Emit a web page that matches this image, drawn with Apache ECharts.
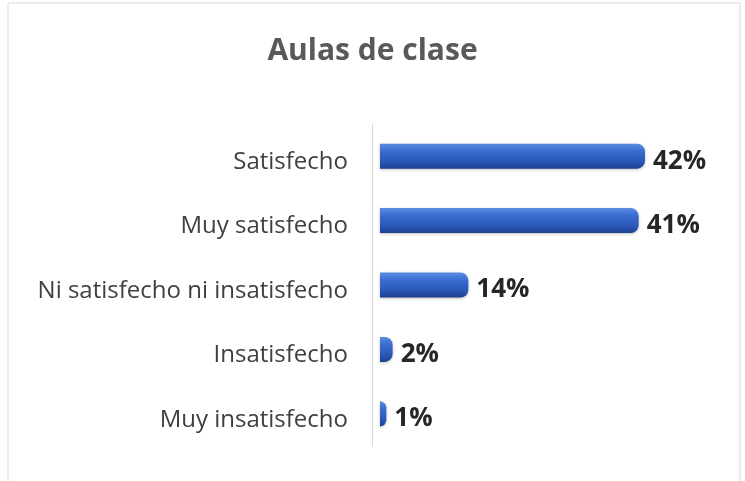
<!DOCTYPE html>
<html>
<head>
<meta charset="utf-8">
<script src="https://cdn.jsdelivr.net/npm/echarts@6/dist/echarts.min.js"></script>
<style>
html, body { margin: 0; padding: 0; background: #fff; }
#chart { width: 745px; height: 481px; }
</style>
</head>
<body>
<div id="chart"></div>
<script>
/*###############  Aulas de clase  ###############*/
var categorias = ['Satisfecho', 'Muy satisfecho', 'Ni satisfecho ni insatisfecho', 'Insatisfecho', 'Muy insatisfecho'];
var porcentajes = [42, 41, 14, 2, 1];

var dom = document.getElementById("chart");
var myChart = echarts.init(dom);
var option = {
    title: {
        text: 'Aulas de clase',
        left: 'center',
        top: 31,
        textStyle: {
            color: '#595959',
            fontFamily: 'Open Sans',
            fontSize: 30,
            fontWeight: 'bold'
        }
    },
    graphic: [
        {
            type: 'rect',
            shape: { x: 8, y: 3, width: 732, height: 490 },
            style: { fill: 'none', stroke: '#d9d9d9', lineWidth: 1 },
            silent: true
        }
    ],
    grid: {
        left: 372,
        right: 18,
        top: 124,
        bottom: 35
    },
    xAxis: {
        type: 'value',
        min: -1.27,
        max: 55,
        show: false,
        splitLine: { show: false }
    },
    yAxis: {
        type: 'category',
        inverse: true,
        data: categorias,
        axisLine: { show: true, onZero: false, lineStyle: { color: '#d9d9d9', width: 1 } },
        axisTick: { show: false },
        axisLabel: {
            margin: 24,
            formatter: '{c|{value}}',
            rich: {
                c: {
                    padding: [12, 0, 0, 0],
                    color: '#404040',
                    fontFamily: 'Open Sans',
                    fontSize: 24
                }
            }
        }
    },
    series: [
        {
            name: 'Aulas de clase',
            type: 'bar',
            data: porcentajes,
            barWidth: 25,
            itemStyle: {
                borderRadius: [0, 8, 8, 0],
                color: new echarts.graphic.LinearGradient(0, 0, 0, 1, [
                    { offset: 0, color: '#5b8be0' },
                    { offset: 0.3, color: '#3a6cd2' },
                    { offset: 0.8, color: '#2653b0' },
                    { offset: 1, color: '#1c3f8a' }
                ]),
                shadowColor: 'rgba(0,0,0,0.25)',
                shadowBlur: 3,
                shadowOffsetY: 1
            },
            label: {
                show: true,
                position: 'right',
                distance: 8,
                offset: [0, 5],
                formatter: '{c}%',
                color: '#262626',
                fontFamily: 'Open Sans',
                fontSize: 26,
                fontWeight: 'bold'
            }
        }
    ]
};
myChart.setOption(option);
</script>
</body>
</html>
